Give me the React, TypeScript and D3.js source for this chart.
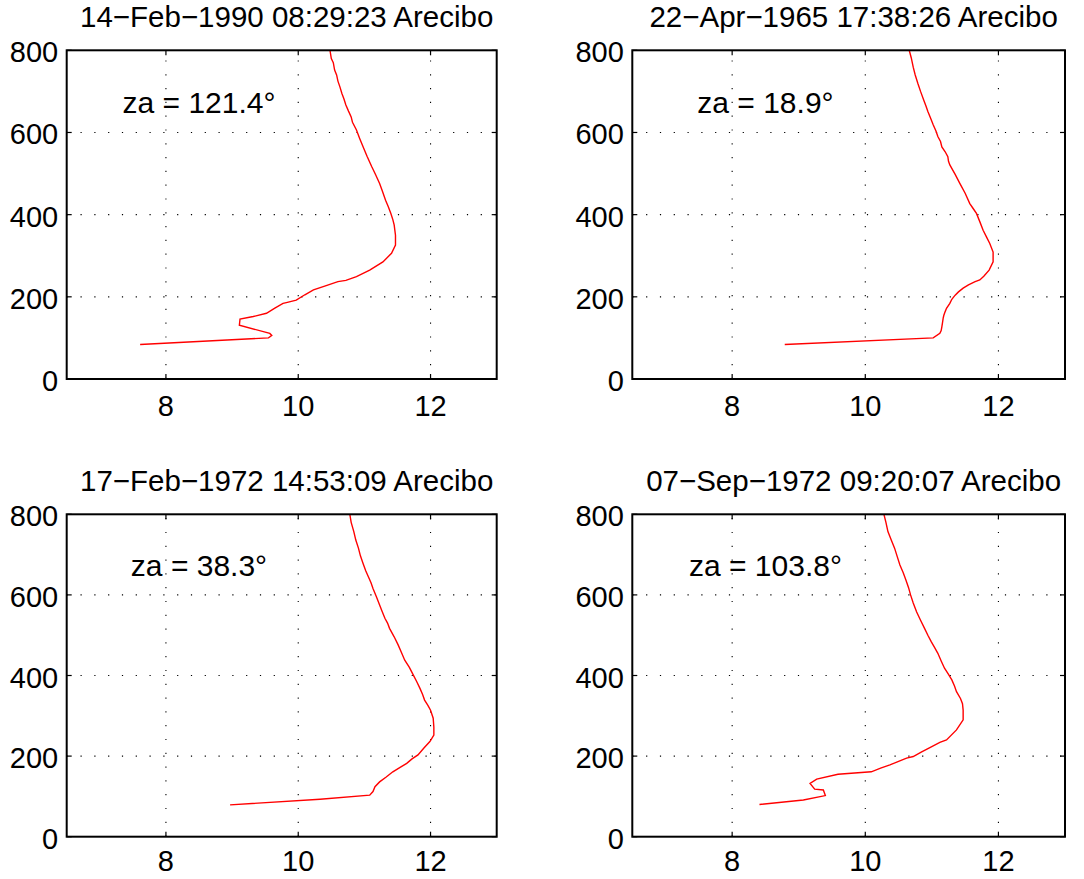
import React from "react";
import * as d3 from "d3";

const titles = [
  "14−Feb−1990 08:29:23 Arecibo",
  "22−Apr−1965 17:38:26 Arecibo",
  "17−Feb−1972 14:53:09 Arecibo",
  "07−Sep−1972 09:20:07 Arecibo",
];
const zenithLabels = ["za = 121.4°", "za = 18.9°", "za = 38.3°", "za = 103.8°"];

const xTicks = [8, 10, 12];
const yTicks = [0, 200, 400, 600, 800];
const xDomain = [6.5, 13];
const yDomain = [0, 800];

// profile 1: [value, height]
const profile1: [number, number][] = [
  [10.48, 800], [10.5, 780], [10.53, 770], [10.55, 752], [10.58, 740], [10.6, 725], [10.63, 711],
  [10.66, 695], [10.69, 682], [10.72, 667], [10.76, 652], [10.8, 638], [10.82, 625], [10.88, 606],
  [10.93, 585], [10.98, 565], [11.04, 542], [11.11, 517], [11.17, 497], [11.23, 476], [11.27, 458],
  [11.32, 435], [11.36, 420], [11.4, 403], [11.43, 388], [11.45, 375], [11.47, 350], [11.47, 326],
  [11.41, 306], [11.28, 285], [11.08, 265], [10.88, 249], [10.72, 240], [10.6, 237], [10.4, 226],
  [10.23, 217], [10.1, 205], [9.97, 192], [9.82, 186], [9.77, 184], [9.64, 172], [9.52, 160],
  [9.32, 152], [9.12, 146], [9.11, 131], [9.57, 111], [9.6, 106], [9.55, 100], [7.61, 84],
];

const profile2: [number, number][] = [
  [10.66, 800], [10.69, 782], [10.72, 759], [10.75, 740], [10.79, 719], [10.83, 700], [10.88, 678],
  [10.91, 665], [10.94, 651], [10.98, 635], [11.02, 619], [11.06, 604], [11.09, 590], [11.13, 578],
  [11.15, 565], [11.2, 553], [11.24, 541], [11.25, 530], [11.27, 521], [11.35, 498], [11.42, 476],
  [11.5, 452], [11.57, 427], [11.62, 415], [11.67, 403], [11.72, 383], [11.77, 362], [11.82, 346],
  [11.87, 330], [11.92, 309], [11.92, 285], [11.86, 265], [11.78, 250], [11.72, 241], [11.65, 237],
  [11.55, 229], [11.47, 221], [11.4, 212], [11.35, 204], [11.3, 194], [11.27, 184], [11.22, 172],
  [11.2, 164], [11.18, 155], [11.17, 148], [11.16, 137], [11.15, 127], [11.14, 118], [11.12, 111],
  [11.02, 100], [8.79, 84],
];

const profile3: [number, number][] = [
  [10.78, 800], [10.8, 780], [10.84, 757], [10.87, 736], [10.91, 716], [10.94, 697], [10.98, 678],
  [11.02, 660], [11.06, 645], [11.1, 630], [11.13, 616], [11.18, 596], [11.23, 575], [11.27, 558],
  [11.31, 542], [11.35, 530], [11.38, 517], [11.45, 496], [11.51, 476], [11.56, 457], [11.61, 438],
  [11.68, 420], [11.74, 401], [11.79, 385], [11.84, 368], [11.88, 353], [11.91, 339], [11.96, 326],
  [12.0, 314], [12.04, 294], [12.05, 272], [12.05, 252], [11.99, 236], [11.9, 220], [11.81, 203],
  [11.72, 193], [11.64, 182], [11.54, 172], [11.43, 161], [11.33, 148], [11.23, 136], [11.16, 124],
  [11.13, 112], [11.08, 103], [10.33, 93], [8.97, 79],
];

const profile4: [number, number][] = [
  [10.28, 800], [10.31, 780], [10.34, 757], [10.39, 736], [10.44, 716], [10.48, 695], [10.52, 674],
  [10.57, 655], [10.61, 637], [10.65, 618], [10.68, 600], [10.72, 580], [10.77, 558], [10.83, 537],
  [10.89, 517], [10.94, 500], [10.99, 484], [11.04, 470], [11.09, 455], [11.14, 436], [11.19, 418],
  [11.25, 403], [11.3, 389], [11.34, 374], [11.37, 360], [11.43, 343], [11.46, 330], [11.47, 314],
  [11.47, 290], [11.37, 265], [11.22, 240], [11.12, 234], [10.97, 221], [10.84, 210], [10.72, 199],
  [10.62, 195], [10.5, 187], [10.37, 178], [10.23, 170], [10.09, 161], [9.59, 155], [9.27, 143],
  [9.17, 132], [9.24, 118], [9.37, 116], [9.4, 102], [9.07, 91], [8.41, 80],
];

const profiles = [profile1, profile2, profile3, profile4];

const panels = [
  { left: 66.7, top: 50.3, width: 430, height: 328.7, xLabelGap: 37 },
  { left: 632.3, top: 50.3, width: 432.7, height: 328.7, xLabelGap: 37 },
  { left: 66.7, top: 514.3, width: 430, height: 322.4, xLabelGap: 34 },
  { left: 632.3, top: 514.3, width: 432.7, height: 322.4, xLabelGap: 34 },
];

const FONT = "'Liberation Sans', Arial, Helvetica, sans-serif";

function Panel({ idx }: { idx: number }) {
  const p = panels[idx];
  const x = d3.scaleLinear().domain(xDomain).range([p.left, p.left + p.width]);
  const y = d3.scaleLinear().domain(yDomain).range([p.top + p.height, p.top]);
  const line = d3
    .line<[number, number]>()
    .x((d) => x(d[0]))
    .y((d) => y(d[1]));
  const tickLen = 5;
  const x0 = p.left;
  const x1 = p.left + p.width;
  const y0 = p.top + p.height;
  const y1 = p.top;
  return (
    <g>
      {xTicks.map((t) => (
        <line
          key={"gx" + t}
          x1={x(t)}
          x2={x(t)}
          y1={y0}
          y2={y1}
          stroke="#000"
          strokeWidth={1.1}
          strokeDasharray="1.2 12.6"
        />
      ))}
      {yTicks
        .filter((t) => t > yDomain[0] && t < yDomain[1])
        .map((t) => (
          <line
            key={"gy" + t}
            x1={x0}
            x2={x1}
            y1={y(t)}
            y2={y(t)}
            stroke="#000"
            strokeWidth={1.1}
            strokeDasharray="1.2 12.6"
          />
        ))}
      <path d={line(profiles[idx]) || ""} fill="none" stroke="#ff0000" strokeWidth={1.4} />
      {xTicks.map((t) => (
        <g key={"tx" + t}>
          <line x1={x(t)} x2={x(t)} y1={y0} y2={y0 - tickLen} stroke="#000" strokeWidth={1.2} />
          <line x1={x(t)} x2={x(t)} y1={y1} y2={y1 + tickLen} stroke="#000" strokeWidth={1.2} />
          <text
            x={x(t)}
            y={y0 + p.xLabelGap}
            textAnchor="middle"
            fontSize={29}
            fontFamily={FONT}
            fill="#000"
          >
            {t}
          </text>
        </g>
      ))}
      {yTicks.map((t) => (
        <g key={"ty" + t}>
          <line x1={x0} x2={x0 + tickLen} y1={y(t)} y2={y(t)} stroke="#000" strokeWidth={1.2} />
          <line x1={x1} x2={x1 - tickLen} y1={y(t)} y2={y(t)} stroke="#000" strokeWidth={1.2} />
          <text
            x={x0 - 8.5}
            y={y(t) + 12}
            textAnchor="end"
            fontSize={29}
            fontFamily={FONT}
            fill="#000"
          >
            {t}
          </text>
        </g>
      ))}
      <rect x={x0} y={y1} width={p.width} height={p.height} fill="none" stroke="#000" strokeWidth={2} />
      <text x={x(8.5)} y={y(648)} textAnchor="middle" fontSize={30} fontFamily={FONT} fill="#000">
        {zenithLabels[idx]}
      </text>
      <text
        x={p.left + p.width / 2 + 5}
        y={p.top - 23}
        textAnchor="middle"
        fontSize={29.5}
        fontFamily={FONT}
        fill="#000"
      >
        {titles[idx]}
      </text>
    </g>
  );
}

export default function App() {
  return (
    <svg
      width={1084}
      height={879}
      style={{ position: "absolute", left: 0, top: 0, background: "#fff" }}
    >
      <rect x={0} y={0} width={1084} height={879} fill="#fff" />
      {panels.map((_, i) => (
        <Panel key={i} idx={i} />
      ))}
    </svg>
  );
}
